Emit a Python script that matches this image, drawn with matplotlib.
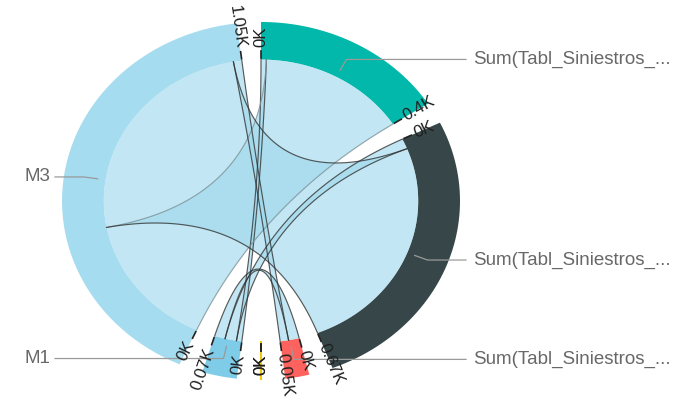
#!/usr/bin/env python3

import numpy as np
import matplotlib.pyplot as plt
from matplotlib.patches import Polygon


plt.rcParams["font.family"] = ["Liberation Sans", "DejaVu Sans"]

# Groups, clockwise from the top: the four measure columns, then the rows.
TARGETS = [
    "Sum(Tabl_Siniestros_...",
    "Sum(Tabl_Siniestros_...",
    "Sum(Tabl_Siniestros_...",
    "Sum(Tabl_Siniestros_...",
]
TARGET_COLORS = ["#01b8aa", "#374649", "#fd625e", "#f2c80f"]

SOURCES = ["M1", "M3"]
SOURCE_COLORS = ["#7fcce9", "#a6dcef"]

# Flow from each row to each measure column.
FLOWS_M1 = [14, 30, 28, 0]
FLOWS_M3 = [390, 642, 22, 0]

PAD_DEG = 7.0
R_IN = 0.79
R_OUT = 1.0

FIG_W, FIG_H = 685, 400
# Chart ellipse in pixels (the source picture is stretched a bit sideways).
CX, CY = 261, 201
RX, RY = 199, 179


def point(theta, r):
    return r * np.sin(theta), r * np.cos(theta)


def arc_points(a0, a1, r, n=60):
    t = np.linspace(a0, a1, n)
    return np.column_stack([r * np.sin(t), r * np.cos(t)])


def bezier(p0, p2, n=60):
    # quadratic curve with the control point at the centre
    t = np.linspace(0, 1, n)[:, None]
    p0 = np.asarray(p0)
    p2 = np.asarray(p2)
    return (1 - t) ** 2 * p0 + t ** 2 * p2


def screen_angle(theta):
    return np.degrees(np.arctan2(np.cos(theta) * RY, np.sin(theta) * RX))


def fmt_k(v):
    s = f"{v / 1000:.2f}".rstrip("0").rstrip(".")
    return f"{s}K"


def layout():
    flows = np.array([FLOWS_M1, FLOWS_M3], dtype=float)
    target_tot = flows.sum(axis=0)
    source_tot = flows.sum(axis=1)
    totals = list(target_tot) + list(source_tot)

    pad = np.radians(PAD_DEG)
    k = (2 * np.pi - pad * len(totals)) / sum(totals)

    groups = []
    a = 0.0
    for v in totals:
        groups.append((a, a + v * k))
        a += v * k + pad

    # sub-arcs inside each group, in index order
    tgt_sub = {}
    for j in range(len(TARGETS)):
        a = groups[j][0]
        for i in range(len(SOURCES)):
            tgt_sub[(i, j)] = (a, a + flows[i, j] * k)
            a += flows[i, j] * k

    src_sub = {}
    for i in range(len(SOURCES)):
        a = groups[len(TARGETS) + i][0]
        for j in range(len(TARGETS)):
            src_sub[(i, j)] = (a, a + flows[i, j] * k)
            a += flows[i, j] * k

    return flows, totals, groups, src_sub, tgt_sub


def main():
    flows, totals, groups, src_sub, tgt_sub = layout()
    names = TARGETS + SOURCES
    colors = TARGET_COLORS + SOURCE_COLORS

    fig = plt.figure(figsize=(FIG_W / 100, FIG_H / 100), dpi=100)
    ax = fig.add_axes([
        (CX - RX) / FIG_W,
        (FIG_H - CY - RY) / FIG_H,
        2 * RX / FIG_W,
        2 * RY / FIG_H,
    ])
    ax.set_xlim(-1, 1)
    ax.set_ylim(-1, 1)
    ax.axis("off")

    # Outer ring segments.
    for (a0, a1), color, v in zip(groups, colors, totals):
        if v <= 0:
            p_in = point(a0, R_IN)
            p_out = point(a0, R_OUT)
            ax.plot([p_in[0], p_out[0]], [p_in[1], p_out[1]],
                    color=color, linewidth=1.5, zorder=2)
            continue
        outer = arc_points(a0, a1, R_OUT)
        inner = arc_points(a1, a0, R_IN)
        ax.add_patch(Polygon(np.vstack([outer, inner]), closed=True,
                             facecolor=color, edgecolor="none", zorder=2))

    # Chords.
    for i in range(len(SOURCES)):
        for j in range(len(TARGETS)):
            if flows[i, j] <= 0:
                continue
            s0, s1 = src_sub[(i, j)]
            t0, t1 = tgt_sub[(i, j)]
            pts = np.vstack([
                arc_points(s0, s1, R_IN),
                bezier(point(s1, R_IN), point(t0, R_IN)),
                arc_points(t0, t1, R_IN),
                bezier(point(t1, R_IN), point(s0, R_IN)),
            ])
            ax.add_patch(Polygon(pts, closed=True, facecolor="#9dd8ec",
                                 alpha=0.62, edgecolor="none", zorder=3))
            # the big M3 -> first measure ribbon has a fainter outline
            big_first = (i == 1 and j == 0)
            edge_color = "#7d9299" if big_first else "#333333"
            for edge in (bezier(point(s1, R_IN), point(t0, R_IN)),
                         bezier(point(t1, R_IN), point(s0, R_IN))):
                ax.plot(edge[:, 0], edge[:, 1], color=edge_color,
                        linewidth=0.85, alpha=0.8, zorder=4)

    # Ticks at each group boundary.
    for (a0, a1), v in zip(groups, totals):
        for theta, text in ((a0, "0K"), (a1, fmt_k(v))):
            p1 = point(theta, 0.80)
            p2 = point(theta, 0.84)
            ax.plot([p1[0], p2[0]], [p1[1], p2[1]], color="#222222",
                    linewidth=1.2, zorder=5, clip_on=False)
            rot = screen_angle(theta)
            if theta < np.pi - 1e-6:
                ha = "left"
            else:
                rot += 180
                ha = "right"
            tx, ty = point(theta, 0.86)
            ax.text(tx, ty, text, rotation=rot, rotation_mode="anchor",
                    ha=ha, va="center", fontsize=12, color="#1e1e1e",
                    zorder=6)

    # Leader lines and group names.
    for (a0, a1), name, v in zip(groups, names, totals):
        if v <= 0:
            continue
        mid = (a0 + a1) / 2
        p1 = point(mid, 0.83)
        p2 = point(mid, 0.90)
        right = mid < np.pi
        x_end = 1.03 if right else -1.035
        ax.plot([p1[0], p2[0], x_end], [p1[1], p2[1], p2[1]],
                color="#9a9a9a", linewidth=0.9, zorder=5, clip_on=False)
        ax.text(1.065 if right else -1.06, p2[1], name,
                ha="left" if right else "right", va="center",
                fontsize=13.5, color="#686868")

    fig.savefig("out.png", dpi=100)


if __name__ == "__main__":
    main()
